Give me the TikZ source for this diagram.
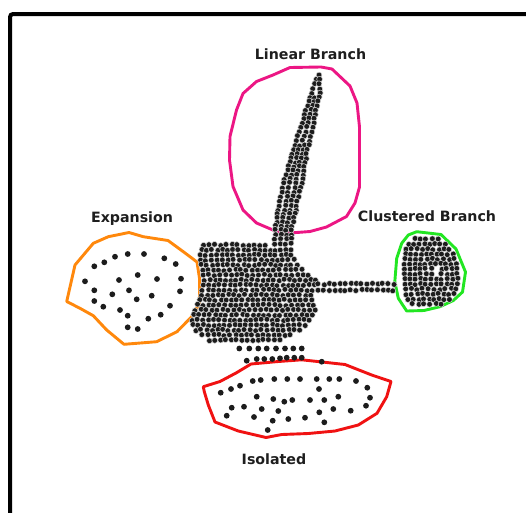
\documentclass[tikz,border=0pt]{standalone}
\usepackage{fontspec}
\setmainfont{DejaVu Sans}
\definecolor{pinkc}{RGB}{236,22,132}
\definecolor{orangec}{RGB}{255,136,12}
\definecolor{greenc}{RGB}{34,230,34}
\definecolor{redc}{RGB}{240,18,18}
\definecolor{dotc}{RGB}{28,28,28}
\definecolor{txtc}{RGB}{30,30,30}
\tikzset{
  outline/.style={line width=2.9pt, line join=round},
  lbl/.style={anchor=base, text=txtc, inner sep=0pt, font=\fontsize{14.2}{16}\selectfont\bfseries},
  sdot/.style={fill=dotc},
  ddot/.style={fill=dotc, draw=white!70!gray, line width=0.5pt}
}
\newcommand\mydotrow[3]{%
  \pgfmathsetmacro\myra{#2+2.5}%
  \pgfmathsetmacro\myrb{max(#3-2.5,\myra)}%
  \pgfmathtruncatemacro\mynn{max(1,round((\myrb-\myra)/5.4)+1)}%
  \pgfmathsetmacro\myst{(\myrb-\myra)/max(\mynn-1,1)}%
  \foreach \k in {1,...,\mynn}{%
    \pgfmathsetmacro\mypx{(\myra+\myrb)/2+(\k-(\mynn+1)/2)*\myst+0.8*rand}%
    \pgfmathsetmacro\mypy{#1+0.8*rand}%
    \pgfmathtruncatemacro\myskip{(((\mypx-436)/10)^2+((\mypy-271)/10)^2<0.25)?1:0}%
    \ifnum\myskip=0 \filldraw[ddot] (\mypx,\mypy) circle[radius=2.9];\fi
  }}
\begin{document}
\begin{tikzpicture}[x=1pt,y=-1pt]
\useasboundingbox (0,0) rectangle (526,512);
\clip (0,0) rectangle (526,512);
\fill[white] (0,0) rectangle (526,512);
\pgfmathsetseed{11}
% frame
\draw[line width=4pt, rounded corners=3pt] (10,540) -- (10,14) -- (560,14);

% outlines
\draw[outline, pinkc] (290,67.5) -- (321,67) -- (332,69) -- (350,86) -- (357,103) -- (359.5,127) -- (359.5,153) -- (359.5,187) -- (355,203) -- (346.5,216.5) -- (326.5,227) -- (310,231.5) -- (290,233) -- (276.5,231.5) -- (256.5,223) -- (243,210) -- (233,186.5) -- (229.5,160) -- (230,136.5) -- (236.5,110) -- (243,93.5) -- (256.5,81.5) -- (273,75) -- cycle;
\draw[outline, orangec] (66.7,301.5) -- (75,265) -- (93.3,243.3) -- (108.3,236.7) -- (129,232.5) -- (143.3,236.7) -- (168,240.5) -- (183.3,251.7) -- (197,262) -- (199.5,278.3) -- (199.5,303.3) -- (191.7,316.7) -- (177,331.7) -- (156.7,341.7) -- (124,344.3) -- (106.7,330) -- (93.3,315.7) -- (80,308.3) -- cycle;
\draw[outline, greenc] (401.7,243.3) -- (408.3,235) -- (416.7,231.7) -- (441,234.5) -- (456,249) -- (465.5,272) -- (462.5,292) -- (453.3,300.5) -- (440,306.7) -- (424,310.5) -- (406.7,311) -- (398.3,298.3) -- (394.8,281.7) -- (396.7,258.3) -- cycle;
\draw[outline, redc] (203.3,386.7) -- (220,381.5) -- (236,373) -- (251,364) -- (278.3,361.5) -- (301.7,359.8) -- (325,362.3) -- (345,364.5) -- (371.7,375) -- (391,381.5) -- (386.7,396.7) -- (377,413.3) -- (358.3,425) -- (335,431) -- (308.3,433.5) -- (281.7,434.5) -- (266,437.5) -- (238.3,431) -- (215,422) -- (208.3,405) -- (204.3,391.7) -- cycle;

% linear branch (segments: y from, y to, left from, left to, right from, right to, rows)
\foreach \ya/\yb/\la/\lb/\rra/\rrb/\nr in {75/93/315/309/322/322/4, 93/127/309/298/322/315/8, 127/150/298/291/315/310/5, 150/183/291/281/310/304/8, 183/210/281/276/304/298/6, 210/230/276/273/298/294/5, 230/248/273/272/294/294/4}{%
  \foreach \j in {1,...,\nr}{%
    \pgfmathsetmacro\myt{(\j-1)/\nr}%
    \pgfmathsetmacro\myy{\ya+\myt*(\yb-\ya)}%
    \pgfmathsetmacro\myl{\la+\myt*(\lb-\la)}%
    \pgfmathsetmacro\myr{\rra+\myt*(\rrb-\rra)}%
    \mydotrow{\myy}{\myl}{\myr}%
  }}
\mydotrow{245}{201}{268}
% main blob
\foreach \yy/\xl/\xr in {250/199/294, 255/198/294, 260/198/296, 265/199/299, 270/200/304, 275/201/311, 280/202/318, 285/201/317, 290/200/315, 295/199/313, 300/197/314, 305/195/316, 310/193/317, 315/191/315, 320/190/312, 325/190/307, 330/193/302, 335/200/293, 340/207/282}
  {\mydotrow{\yy}{\xl}{\xr}}
% horizontal branch
\mydotrow{284}{316}{396}
\mydotrow{290}{316}{396}
% clustered branch
\foreach \yy/\xl/\xr in {239/412/440, 244/406/448, 249/404/452, 254/403/455, 259/402/457, 264/402/459, 269/402/460, 274/402/460, 279/402/460, 284/402/460, 289/403/459, 294/404/457, 299/406/452, 304/410/444}
  {\mydotrow{\yy}{\xl}{\xr}}
% bridge rows
\foreach \px in {239.3,249.3,258.3,266.7,276,285,293.3,301.7}
  {\fill[sdot] (\px,348.5) circle[radius=2.9];}
\foreach \px/\py in {246.7/360.7, 256.7/359, 264.3/359, 272.3/359, 280/358.3, 286.7/357.7, 294.3/357.7, 301.7/357.7, 321.7/361.7}
  {\fill[sdot] (\px,\py) circle[radius=2.9];}
% expansion dots
\foreach \px/\py in {94.3/266.3, 104.3/262.3, 115/256.7, 127.7/254, 144/254, 164.3/258.3, 175.7/264, 85/281.3, 119/280, 137.7/275, 157/279, 181/278.7, 94.3/290.3, 112.3/294.3, 129/290.3, 151.7/295.7, 180/291.3, 94.3/301, 103.3/306.7, 120/310, 136.7/299.3, 170/305.7, 160.7/314.7, 127.7/315.7, 148.3/318.7, 127.7/327.3, 137.7/329}
  {\fill[sdot] (\px,\py) circle[radius=2.9];}
% isolated dots
\foreach \px/\py in {252.7/381, 260.7/380, 274.3/379, 287.3/379, 300/379, 316.7/379, 329.3/379, 339.3/379, 356/381, 220.7/392.7, 231/389, 240/385.7, 319/389, 367.3/387.7, 256.7/396.7, 273.3/399, 284.3/401.7, 292.3/400, 310/400, 324.3/400, 338.3/396.7, 370/397.7, 231.7/407.7, 244/406.7, 261.7/409, 278.3/411, 319.3/412.3, 333.3/409, 350.7/410.7, 366/405.7, 226.7/415.7, 254/417, 272.7/420.7, 288.3/419, 305/417.7, 324.3/422.3, 267.7/430}
  {\fill[sdot] (\px,\py) circle[radius=2.9];}

% labels
\node[lbl] (linear) at (310.5,59.3) {Linear Branch};
\node[lbl] (expansion) at (132,222.8) {Expansion};
\node[lbl] (clustered) at (427,221.5) {Clustered Branch};
\node[lbl] (isolated) at (274,464) {Isolated};
\end{tikzpicture}
\end{document}
